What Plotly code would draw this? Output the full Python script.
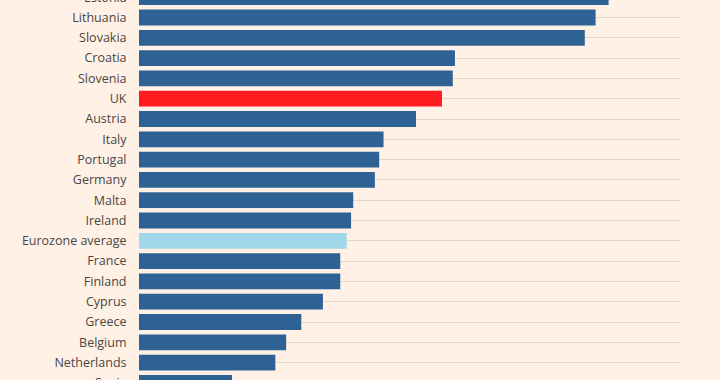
import plotly.graph_objects as go

countries = ["Estonia", "Lithuania", "Slovakia", "Croatia", "Slovenia", "UK", "Austria",
             "Italy", "Portugal", "Germany", "Malta", "Ireland", "Eurozone average",
             "France", "Finland", "Cyprus", "Greece", "Belgium", "Netherlands", "Spain"]
values = [21.7, 21.1, 20.6, 14.6, 14.5, 14.0, 12.8, 11.3, 11.1, 10.9, 9.9, 9.8, 9.6,
          9.3, 9.3, 8.5, 7.5, 6.8, 6.3, 4.3]

BLUE = "#2F6294"
BG = "#FFF1E5"
colors = []
for c in countries:
    if c == "UK":
        colors.append("#FF1B1F")
    elif c == "Eurozone average":
        colors.append("#A0D7EA")
    else:
        colors.append(BLUE)

idx = list(range(len(countries)))
Y_RANGE = [18.857, 0.138]
H = 380

fig = go.Figure(go.Bar(
    x=values, y=idx, orientation="h",
    marker=dict(color=colors, line=dict(width=0)),
    width=0.78,
    hoverinfo="skip",
))

# labels for the rows cut off at the top and bottom edges
def paper_y(i):
    return (Y_RANGE[0] - i) / (Y_RANGE[0] - Y_RANGE[1])

for i in (idx[0], idx[-1]):
    fig.add_annotation(x=0, xref="paper", y=paper_y(i), yref="paper",
                       text=countries[i], showarrow=False, xanchor="right",
                       yanchor="middle", xshift=-10)

fig.update_layout(
    width=720, height=H,
    margin=dict(l=139, r=40, t=0, b=0),
    paper_bgcolor=BG, plot_bgcolor=BG,
    showlegend=False,
    font=dict(family="Open Sans, sans-serif", size=12.5, color="#4a4643"),
)
fig.update_xaxes(range=[0, 25], showgrid=False, showticklabels=False, zeroline=False,
                 showline=False, fixedrange=True)
fig.update_yaxes(range=Y_RANGE, tickmode="array", tickvals=idx, ticktext=countries,
                 showgrid=True, gridcolor="#E3D6CB", gridwidth=1, zeroline=False,
                 ticks="outside", ticklen=9, tickcolor="rgba(0,0,0,0)", showline=False,
                 fixedrange=True)

fig.write_html("out.html", config={"displayModeBar": False},
               post_script="document.body.style.margin='0';document.body.style.background='%s';document.body.style.overflow='hidden';" % BG)
